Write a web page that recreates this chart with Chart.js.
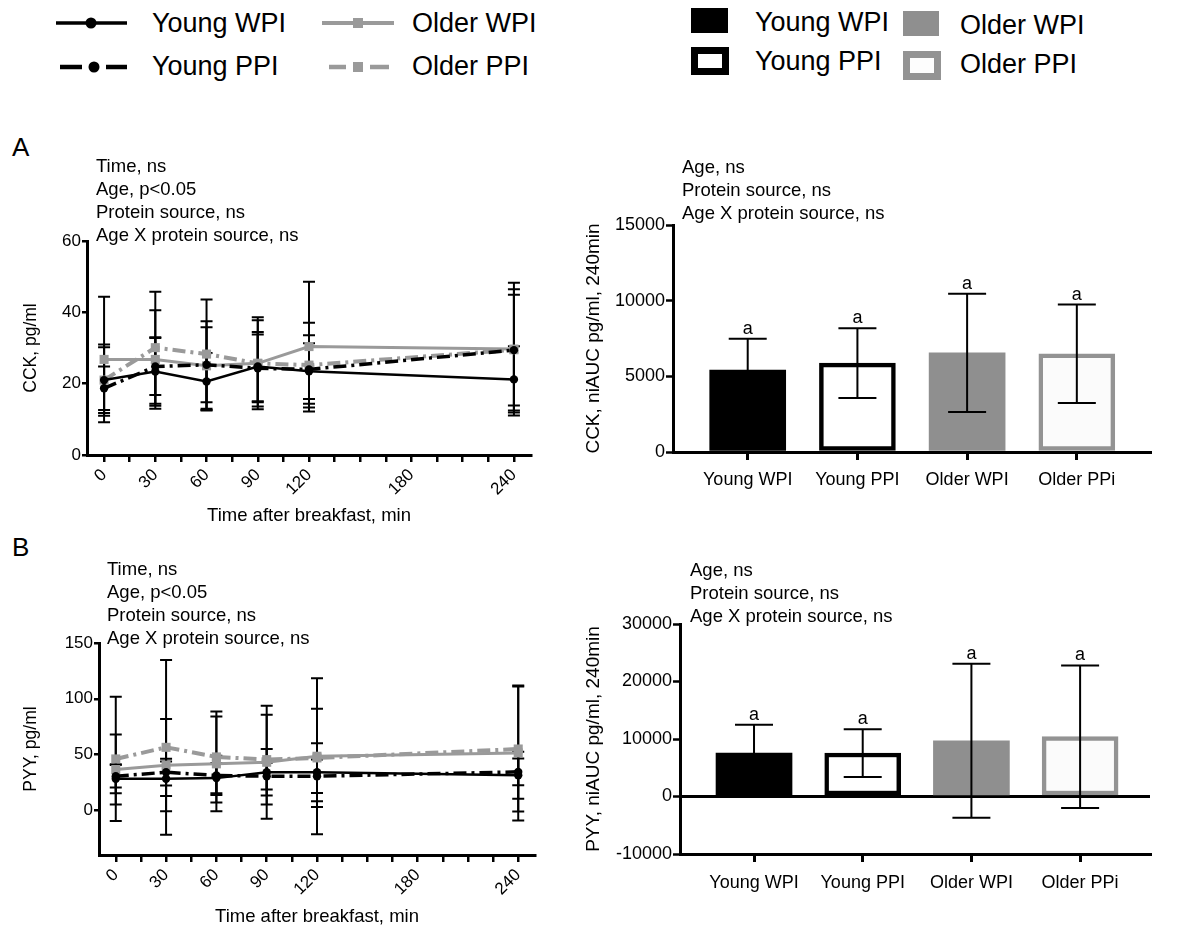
<!DOCTYPE html>
<html>
<head>
<meta charset="utf-8">
<script src="https://cdn.jsdelivr.net/npm/chart.js@4.4.1/dist/chart.umd.min.js"></script>
<style>
  html, body { margin: 0; padding: 0; background: #fff; width: 1188px; height: 928px; overflow: hidden; }
  body { position: relative; font-family: "Liberation Sans", Arial, sans-serif; color: #000; }
  canvas, svg, .txt { position: absolute; }
  .key { position: absolute; font-size: 27px; line-height: 27px; white-space: nowrap; }
  .panel { position: absolute; font-size: 26px; line-height: 26px; }
  .note { position: absolute; font-size: 18.5px; line-height: 23px; white-space: nowrap; z-index: 2; }
</style>
</head>
<body>

<!-- line chart legend -->
<svg width="440" height="90" style="left:0;top:0">
  <line x1="56" y1="23" x2="127" y2="23" stroke="#000" stroke-width="3.5"/>
  <circle cx="91" cy="23" r="5.5" fill="#000"/>
  <line x1="322" y1="23" x2="394" y2="23" stroke="#9a9a9a" stroke-width="4"/>
  <rect x="353" y="18" width="10" height="10" fill="#9a9a9a"/>
  <line x1="60" y1="67" x2="82" y2="67" stroke="#000" stroke-width="4.5"/>
  <circle cx="94" cy="67" r="5.5" fill="#000"/>
  <line x1="106" y1="67" x2="127" y2="67" stroke="#000" stroke-width="4.5"/>
  <line x1="329" y1="67" x2="346" y2="67" stroke="#9a9a9a" stroke-width="4.5"/>
  <rect x="353" y="62" width="10" height="10" fill="#9a9a9a"/>
  <line x1="370" y1="67" x2="389" y2="67" stroke="#9a9a9a" stroke-width="4.5"/>
</svg>
<div class="key" style="left:152px;top:10px">Young WPI</div>
<div class="key" style="left:412px;top:10px">Older WPI</div>
<div class="key" style="left:152px;top:53px">Young PPI</div>
<div class="key" style="left:412px;top:53px">Older PPI</div>

<!-- bar chart legend -->
<svg width="300" height="90" style="left:680px;top:0">
  <rect x="11" y="8" width="37" height="25" fill="#000"/>
  <rect x="223" y="11" width="36" height="25" fill="#8f8f8f"/>
  <rect x="14.5" y="50.5" width="31" height="21" fill="#fff" stroke="#000" stroke-width="7"/>
  <rect x="226.5" y="54.5" width="31" height="22" fill="#fdfdfd" stroke="#939393" stroke-width="7"/>
</svg>
<div class="key" style="left:755px;top:9px">Young WPI</div>
<div class="key" style="left:960px;top:12px">Older WPI</div>
<div class="key" style="left:755px;top:48px">Young PPI</div>
<div class="key" style="left:960px;top:51px">Older PPI</div>

<div class="panel" style="left:12px;top:134px">A</div>
<div class="panel" style="left:12px;top:534px">B</div>

<div class="note" style="left:96px;top:154px">Time, ns<br>Age, p&lt;0.05<br>Protein source, ns<br>Age X protein source, ns</div>
<div class="note" style="left:107px;top:557px">Time, ns<br>Age, p&lt;0.05<br>Protein source, ns<br>Age X protein source, ns</div>
<div class="note" style="left:682px;top:155px">Age, ns<br>Protein source, ns<br>Age X protein source, ns</div>
<div class="note" style="left:690px;top:558px">Age, ns<br>Protein source, ns<br>Age X protein source, ns</div>

<canvas id="cckLine" width="560" height="327" style="left:0;top:200px"></canvas>
<canvas id="pyyLine" width="560" height="328" style="left:0;top:600px"></canvas>
<canvas id="cckBar" width="600" height="300" style="left:560px;top:200px"></canvas>
<canvas id="pyyBar" width="600" height="310" style="left:560px;top:600px"></canvas>

<script>
// sampling times and axis ticks
const times = [0, 30, 60, 90, 120, 240];
const minuteTicks = [0, 15, 30, 45, 60, 75, 90, 105, 120, 135, 150, 165, 180, 195, 210, 225, 240];
const minuteLabels = [0, 30, 60, 90, 120, 180, 240];
const cckTicks = [0, 20, 40, 60];
const pyyTicks = [0, 50, 100, 150];
const cckAucTicks = [0, 5000, 10000, 15000];
const pyyAucTicks = [-10000, 0, 10000, 20000, 30000];
const barLabels = ['Young WPI', 'Young PPI', 'Older WPI', 'Older PPi'];
const barSlots = [0, 1, 2, 3];

// CCK, pg/ml (mean and SD)
const cckYoungWPI = [21.0, 23.4, 20.6, 24.8, 23.5, 21.2];
const cckYoungWPISd = [10.0, 9.6, 8.0, 9.7, 7.8, 9.3];
const cckYoungPPI = [18.7, 24.8, 25.3, 24.3, 24.0, 29.4];
const cckYoungPPISd = [6.1, 8.0, 10.5, 9.5, 9.6, 15.5];
const cckOlderWPI = [26.8, 26.8, 25.0, 25.7, 30.4, 29.7];
const cckOlderWPISd = [17.6, 13.8, 12.5, 12.9, 18.2, 18.6];
const cckOlderPPI = [21.0, 30.1, 28.3, 25.7, 25.2, 29.5];
const cckOlderPPISd = [9.2, 15.7, 15.3, 12.1, 11.9, 17.0];

// PYY, pg/ml (mean and SD)
const pyyYoungWPI = [28.3, 28.3, 28.9, 34.2, 34.2, 31.5];
const pyyYoungWPISd = [13.0, 15.5, 13.5, 20.9, 26.0, 21.0];
const pyyYoungPPI = [30.6, 34.2, 31.3, 30.6, 30.6, 34.5];
const pyyYoungPPISd = [10.0, 12.0, 17.6, 12.0, 15.0, 12.0];
const pyyOlderWPI = [36.6, 40.5, 41.7, 43.1, 48.5, 51.5];
const pyyOlderWPISd = [31.3, 41.4, 42.5, 50.7, 70.0, 60.5];
const pyyOlderPPI = [46.1, 56.5, 47.9, 45.5, 47.0, 55.0];
const pyyOlderPPISd = [55.7, 78.3, 40.8, 40.2, 44.0, 56.0];

// niAUC 240 min (mean and SD)
const cckAuc = [5410, 5870, 6550, 6490];
const cckAucSd = [2070, 2300, 3900, 3250];
const pyyAuc = [7560, 7560, 9700, 10400];
const pyyAucSd = [4930, 4150, 13400, 12400];

Chart.defaults.font.family = '"Liberation Sans", Arial, sans-serif';
Chart.defaults.color = '#000';

const axisBorder = { display: true, color: '#000', width: 3 };

const lineStyles = [
    { borderColor: '#000', borderWidth: 2.5, pointStyle: 'circle', pointRadius: 4.2, pointBackgroundColor: '#000' },
    { borderColor: '#000', borderWidth: 3.5, borderDash: [13, 5, 3, 5], pointStyle: 'circle', pointRadius: 4.2, pointBackgroundColor: '#000' },
    { borderColor: '#9a9a9a', borderWidth: 3, pointStyle: 'rect', pointRadius: 6.4, pointBackgroundColor: '#9a9a9a' },
    { borderColor: '#9a9a9a', borderWidth: 4, borderDash: [13, 5, 3, 5], pointStyle: 'rect', pointRadius: 6.4, pointBackgroundColor: '#9a9a9a' }
];

// draws mean +/- SD whiskers (and an optional letter) from the chart's own scales
const errorBars = {
    id: 'errorBars',
    beforeDatasetsDraw(chart, args, opts) {
        if (opts.under) drawWhiskers(chart, opts);
    },
    afterDatasetsDraw(chart, args, opts) {
        if (!opts.under) drawWhiskers(chart, opts);
    }
};

function drawWhiskers(chart, opts) {
    const ctx = chart.ctx;
    const yScale = chart.scales.y;
    ctx.save();
    ctx.strokeStyle = '#000';
    ctx.fillStyle = '#000';
    ctx.lineWidth = opts.lineWidth;
    ctx.font = '18px "Liberation Sans", Arial, sans-serif';
    ctx.textAlign = 'center';
    chart.data.datasets.forEach((ds, i) => {
        chart.getDatasetMeta(i).data.forEach((el, j) => {
            const v = ds.data[j].y;
            const hi = yScale.getPixelForValue(v + ds.sd[j]);
            const lo = yScale.getPixelForValue(v - ds.sd[j]);
            ctx.beginPath();
            ctx.moveTo(el.x, hi); ctx.lineTo(el.x, lo);
            ctx.moveTo(el.x - opts.cap, hi); ctx.lineTo(el.x + opts.cap, hi);
            ctx.moveTo(el.x - opts.cap, lo); ctx.lineTo(el.x + opts.cap, lo);
            ctx.stroke();
            if (opts.letter) ctx.fillText(opts.letter, el.x, hi - 5);
        });
    });
    ctx.restore();
}

function lineChart(id, means, sds, spec) {
    const datasets = means.map((m, i) => Object.assign({
        data: times.map((t, j) => ({ x: t, y: m[j] })),
        sd: sds[i],
        tension: 0,
        fill: false,
        pointBorderWidth: 0
    }, lineStyles[i]));

    return new Chart(document.getElementById(id), {
        type: 'line',
        data: { datasets },
        options: {
            responsive: false,
            devicePixelRatio: 1,
            animation: false,
            layout: { padding: spec.padding },
            plugins: {
                legend: { display: false },
                tooltip: { enabled: false },
                errorBars: { under: true, cap: 6, lineWidth: 2 }
            },
            scales: {
                x: {
                    type: 'linear',
                    min: -10,
                    max: 250,
                    offset: false,
                    afterBuildTicks: s => { s.ticks = minuteTicks.map(v => ({ value: v })); },
                    afterFit: s => { s.height = spec.xHeight; },
                    border: axisBorder,
                    grid: { drawOnChartArea: false, offset: false, color: '#000', lineWidth: 2.5, tickLength: 7 },
                    ticks: {
                        autoSkip: false,
                        minRotation: 45,
                        maxRotation: 45,
                        padding: 3,
                        font: { size: 17 },
                        callback: v => minuteLabels.includes(v) ? String(v) : ''
                    },
                    title: { display: true, text: 'Time after breakfast, min', font: { size: 18.5 }, padding: 0 }
                },
                y: {
                    min: spec.yMin,
                    max: spec.yMax,
                    afterBuildTicks: s => { s.ticks = spec.yTicks.map(v => ({ value: v })); },
                    afterFit: s => { s.width = spec.yWidth; },
                    border: axisBorder,
                    grid: { drawOnChartArea: false, color: '#000', lineWidth: 2.5, tickLength: 5 },
                    ticks: { padding: 1, font: { size: 17 } },
                    title: { display: true, text: spec.yTitle, font: { size: 17.5 }, padding: { top: 4, bottom: 4 } }
                }
            }
        },
        plugins: [errorBars]
    });
}

function barChart(id, values, sds, spec) {
    return new Chart(document.getElementById(id), {
        type: 'bar',
        data: {
            datasets: [{
                data: barSlots.map((s, i) => ({ x: s, y: values[i] })),
                sd: sds,
                backgroundColor: ['#000', '#fff', '#8f8f8f', '#fbfbfb'],
                borderColor: ['#000', '#000', '#8f8f8f', '#939393'],
                borderWidth: [0, 4.5, 0, 4.5],
                borderSkipped: false,
                barThickness: 76
            }]
        },
        options: {
            responsive: false,
            devicePixelRatio: 1,
            animation: false,
            layout: { padding: spec.padding },
            plugins: {
                legend: { display: false },
                tooltip: { enabled: false },
                errorBars: { under: false, cap: 19, lineWidth: 2, letter: 'a' }
            },
            scales: {
                x: {
                    type: 'linear',
                    min: -0.681,
                    max: spec.xMax,
                    offset: false,
                    afterBuildTicks: s => { s.ticks = barSlots.map(v => ({ value: v })); },
                    afterFit: s => { s.height = spec.xHeight; },
                    border: axisBorder,
                    grid: { drawOnChartArea: false, offset: false, color: '#000', lineWidth: 3, tickLength: 8 },
                    ticks: {
                        autoSkip: false,
                        maxRotation: 0,
                        padding: spec.labelPad,
                        font: { size: 18 },
                        callback: v => barLabels[v]
                    }
                },
                y: {
                    min: spec.yMin,
                    max: spec.yMax,
                    afterBuildTicks: s => { s.ticks = spec.yTicks.map(v => ({ value: v })); },
                    afterFit: s => { s.width = spec.yWidth; },
                    border: axisBorder,
                    grid: {
                        drawOnChartArea: spec.zeroLine,
                        color: c => (c.tick && c.tick.value === 0) ? '#000' : 'rgba(0,0,0,0)',
                        tickColor: '#000',
                        lineWidth: 3,
                        tickWidth: 2.5,
                        tickLength: 7
                    },
                    ticks: { padding: 1, font: { size: 18 }, callback: v => String(v) },
                    title: { display: true, text: spec.yTitle, font: { size: 19 }, padding: { top: 4, bottom: 4 } }
                }
            }
        },
        plugins: [errorBars]
    });
}

lineChart('cckLine',
    [cckYoungWPI, cckYoungPPI, cckOlderWPI, cckOlderPPI],
    [cckYoungWPISd, cckYoungPPISd, cckOlderWPISd, cckOlderPPISd],
    { padding: { left: 17, top: 41, right: 29, bottom: 0 }, yWidth: 70, xHeight: 72,
      yMin: 0, yMax: 60, yTicks: cckTicks, yTitle: 'CCK, pg/ml' });

lineChart('pyyLine',
    [pyyYoungWPI, pyyYoungPPI, pyyOlderWPI, pyyOlderPPI],
    [pyyYoungWPISd, pyyYoungPPISd, pyyOlderWPISd, pyyOlderPPISd],
    { padding: { left: 17, top: 43, right: 25, bottom: 0 }, yWidth: 82, xHeight: 73,
      yMin: -40, yMax: 150, yTicks: pyyTicks, yTitle: 'PYY, pg/ml' });

barChart('cckBar', cckAuc, cckAucSd,
    { padding: { left: 18, top: 25, right: 10, bottom: 0 }, yWidth: 95, xHeight: 48, labelPad: 9,
      xMax: 3.667, yMin: 0, yMax: 15000, yTicks: cckAucTicks, zeroLine: false,
      yTitle: 'CCK, niAUC pg/ml, 240min' });

barChart('pyyBar', pyyAuc, pyyAucSd,
    { padding: { left: 18, top: 24, right: 10, bottom: 0 }, yWidth: 102, xHeight: 56, labelPad: 10,
      xMax: 3.643, yMin: -10000, yMax: 30000, yTicks: pyyAucTicks, zeroLine: true,
      yTitle: 'PYY, niAUC pg/ml, 240min' });
</script>
</body>
</html>
